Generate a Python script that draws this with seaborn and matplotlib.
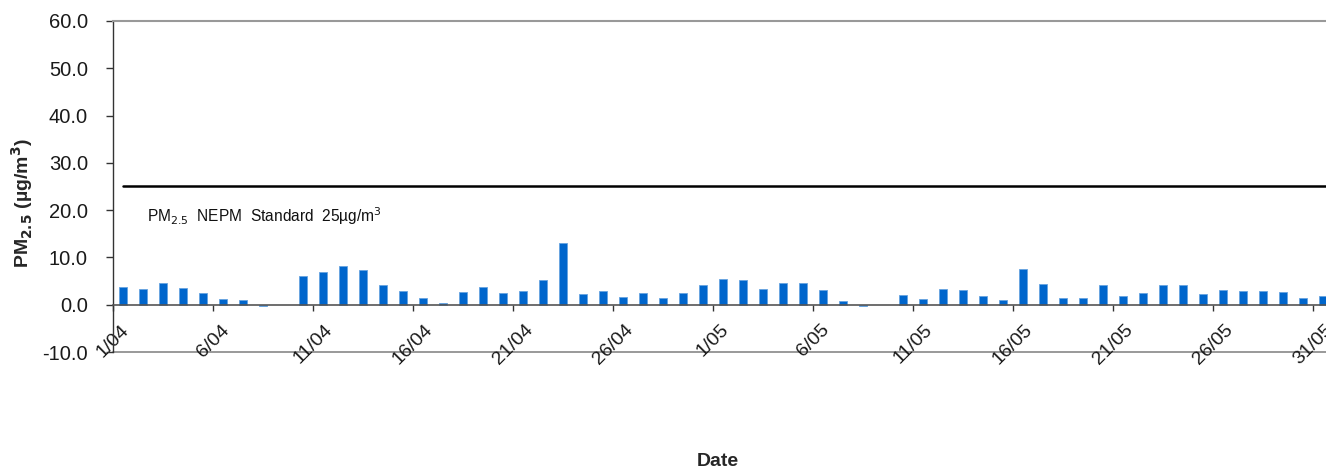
import numpy as np
import pandas as pd
import matplotlib
matplotlib.use("Agg")
import matplotlib.pyplot as plt
import seaborn as sns

# ---- data ----
dates = [f"{d}/04" for d in range(1, 31)] + [f"{d}/05" for d in range(1, 32)]
pm25 = [3.7, 3.3, 4.6, 3.5, 2.5, 1.2, 1.0, -0.3, np.nan, 6.1,
        6.9, 8.2, 7.4, 4.2, 2.9, 1.4, 0.4, 2.7, 3.7, 2.5,
        2.9, 5.2, 13.1, 2.3, 2.9, 1.6, 2.5, 1.4, 2.5, 4.2,
        5.4, 5.2, 3.3, 4.6, 4.6, 3.1, 0.8, -0.3, np.nan, 2.0,
        1.2, 3.3, 3.1, 1.8, 1.0, 7.5, 4.4, 1.4, 1.4, 4.2,
        1.8, 2.5, 4.2, 4.2, 2.3, 3.1, 2.9, 2.9, 2.7, 1.4, 1.8]
standard = 25.0
standard_label = "PM$_{2.5}$  NEPM  Standard  25µg/m$^3$"
y_ticks = [-10, 0, 10, 20, 30, 40, 50, 60]
tick_every = 5

df = pd.DataFrame({"Date": dates, "PM25": pm25})

sns.set_theme(style="white")
plt.rcParams["font.family"] = ["Liberation Sans", "DejaVu Sans"]
plt.rcParams["axes.unicode_minus"] = False

W, H = 1326, 470
fig = plt.figure(figsize=(W / 100, H / 100), dpi=100)
# axes: x from pixel 113 to 1333, y top 21 bottom 352
ax = fig.add_axes([113 / W, 1 - 352 / H, 1220 / W, (352 - 21) / H])

sns.barplot(data=df, x="Date", y="PM25", order=dates, color="#0066CC",
            width=0.4, errorbar=None, saturation=1, ax=ax,
            edgecolor="#66A3E0", linewidth=0.6)

n = len(dates)
ax.set_xlim(-0.5, n - 0.5)
ax.set_ylim(-10, 60)
ax.set_yticks(y_ticks)
ax.set_yticklabels([f"{v:.1f}" for v in y_ticks])

tick_idx = list(range(0, n, tick_every))
ax.set_xticks([i - 0.5 for i in tick_idx])
ax.set_xticklabels([dates[i] for i in tick_idx])
ax.tick_params(axis="x", direction="out", length=4, width=1, color="#333333",
               pad=8, bottom=True, labelrotation=45, labelsize=14,
               labelcolor="#1a1a1a")
ax.tick_params(axis="y", direction="out", length=5, width=1, color="#333333",
               pad=13, left=True, labelsize=14.5, labelcolor="#1a1a1a")
for lbl in ax.get_xticklabels():
    lbl.set_ha("center")
    lbl.set_va("top")

ax.set_xlabel("")
ax.set_ylabel("")

# spines
ax.spines["bottom"].set_position(("data", 0))
ax.spines["bottom"].set_color("#555555")
ax.spines["bottom"].set_linewidth(1.2)
ax.spines["left"].set_color("#333333")
ax.spines["left"].set_linewidth(1.0)
ax.spines["top"].set_color("#999999")
ax.spines["top"].set_linewidth(1.5)
ax.spines["right"].set_visible(False)
ax.axhline(-10, color="#888888", lw=1.2, clip_on=False, zorder=0)

# standard line
ax.plot([0, n], [standard, standard], color="black", lw=1.8, clip_on=True)
ax.text(1.2, 18.8, standard_label, fontsize=11.2, va="center", ha="left",
        color="#111111")

fig.text(22 / W, 1 - 203 / H, "PM$_{\\mathbf{2.5}}$ (µg/m$^\\mathbf{3}$)",
         rotation=90, fontsize=14, fontweight="bold", ha="center", va="center")
fig.text(718 / W, 1 - 462 / H, "Date", fontsize=14, fontweight="bold",
         ha="center", va="center")

fig.savefig("out.png", dpi=100)
